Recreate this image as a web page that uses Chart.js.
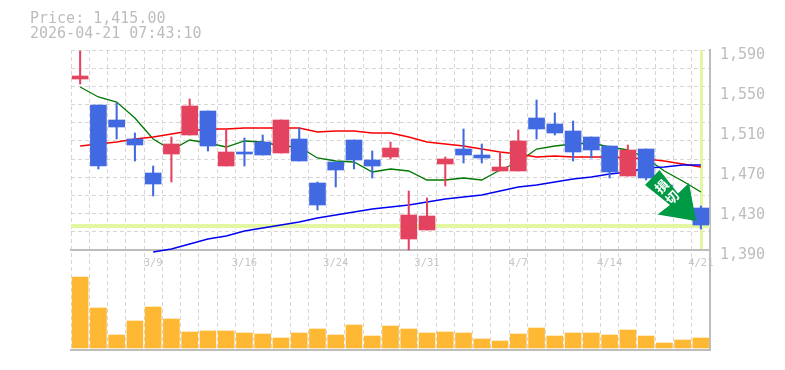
<!DOCTYPE html>
<html>
<head>
<meta charset="utf-8">
<style>
  html, body { margin: 0; padding: 0; background: #fff; }
  #wrap { width: 785px; height: 370px; }
</style>
<script src="https://cdn.jsdelivr.net/npm/chart.js@4/dist/chart.umd.js"></script>
</head>
<body>
<div id="wrap"><canvas id="c" width="785" height="370"></canvas></div>
<script>
const categories = ['3/3','3/4','3/5','3/6','3/9','3/10','3/11','3/12','3/13','3/16','3/17','3/18','3/19','3/23','3/24','3/25','3/26','3/27','3/30','3/31','4/1','4/2','4/3','4/6','4/7','4/8','4/9','4/10','4/13','4/14','4/15','4/16','4/17','4/20','4/21']
const shownDates = ['3/9','3/16','3/24','3/31','4/7','4/14','4/21']
const priceTicks = [1390,1430,1470,1510,1550,1590]

const opens  = [1561,1535,1520,1501,1467,1486,1505,1529,1474,1488,1498,1487,1501,1457,1478,1500,1480,1483,1401,1410,1476,1491,1485,1469,1469,1522,1516,1509,1503,1494,1464,1491,1455,1446,1432]
const closes = [1564,1474,1513,1495,1456,1496,1534,1494,1488,1486,1485,1520,1479,1435,1470,1480,1474,1492,1425,1424,1481,1485,1482,1473,1499,1511,1507,1488,1490,1468,1490,1462,1447,1425,1415]
const highs  = [1589,1535,1537,1507,1474,1503,1541,1529,1511,1502,1505,1520,1512,1458,1478,1500,1489,1498,1449,1442,1483,1511,1496,1488,1510,1540,1527,1519,1503,1494,1495,1491,1455,1446,1434]
const lows   = [1556,1471,1501,1479,1444,1458,1505,1489,1474,1474,1485,1487,1479,1430,1453,1471,1462,1481,1390,1410,1454,1477,1477,1469,1469,1501,1505,1479,1482,1462,1464,1460,1447,1425,1411]

const maShort = [1553,1543,1538,1522,1501,1490,1500,1497,1493,1499,1498,1494,1493,1482,1479,1478,1468,1471,1469,1460,1460,1462,1460,1470,1478,1491,1494,1496,1497,1493,1490,1482,1469,1459,1448]
const maMid   = [1494,1496,1498,1501,1503,1506,1509,1511,1511,1512,1512,1512,1512,1508,1509,1509,1507,1507,1503,1498,1496,1494,1491,1488,1486,1483,1484,1483,1483,1483,1482,1481,1479,1476,1473]
const maLong  = [null,null,null,null,1388,1391,1396,1401,1404,1409,1412,1415,1418,1422,1425,1428,1431,1433,1435,1438,1441,1443,1445,1449,1453,1455,1458,1461,1463,1466,1468,1472,1473,1475,1475]

const volumes = [71000,40000,13000,27000,41000,29000,16000,17000,17000,15000,14000,10000,15000,19000,13000,23000,12000,22000,19000,15000,16000,15000,9000,7000,14000,20000,12000,15000,15000,13000,18000,12000,5000,8000,10000]

const lastPrice = 1415
const RED = '#e44360', BLUE = '#4169e1', GREY = '#bdbdbd', GRID = '#d6d6d6', PALE = '#e3f6a2'
const candleColors = opens.map((o, i) => closes[i] >= o ? RED : BLUE)

// pale lines for the latest price, under the candles
const priceCross = {
  id: 'priceCross',
  beforeDatasetsDraw (chart) {
    const { ctx, chartArea: a, scales } = chart
    const y = Math.round(scales.y.getPixelForValue(lastPrice))
    const x = Math.round(scales.x.getPixelForValue(categories.length - 1))
    ctx.save()
    ctx.fillStyle = PALE
    ctx.fillRect(a.left, y - 1, a.right - a.left, 4)
    ctx.fillRect(x - 1, a.top, 3, scales.y.getPixelForValue(1390) - a.top - 1)
    ctx.restore()
  }
}

// the green stop-loss arrow on top of everything
const lossArrow = {
  id: 'lossArrow',
  afterDatasetsDraw (chart) {
    const { ctx } = chart
    const pts = [[659.5,170],[645,185],[670,205],[657.5,214.5],[696,221],[689,183],[678,193.5]]
    ctx.save()
    ctx.fillStyle = '#009944'
    ctx.beginPath()
    pts.forEach((p, i) => i ? ctx.lineTo(p[0], p[1]) : ctx.moveTo(p[0], p[1]))
    ctx.closePath()
    ctx.fill()
    ctx.fillStyle = '#fff'
    ctx.font = 'bold 13px "Noto Sans CJK JP"'
    ctx.textAlign = 'center'
    ctx.textBaseline = 'middle'
    ;[['損',661.5,186.5],['切',672,197.5]].forEach(t => {
      ctx.save()
      ctx.translate(t[1], t[2])
      ctx.rotate(-Math.PI / 4)
      ctx.fillText(t[0], 0, 0)
      ctx.restore()
    })
    ctx.restore()
  }
}

const lineSet = (data, color) => ({
  type: 'line', data, yAxisID: 'y', order: 3,
  borderColor: color, borderWidth: 1.3, pointRadius: 0, tension: 0, fill: false, spanGaps: false
})

new Chart(document.getElementById('c'), {
  data: {
    labels: categories,
    datasets: [
      lineSet(maLong, '#0000f0'),
      lineSet(maMid, '#f80000'),
      lineSet(maShort, '#007800'),
      {
        type: 'bar', label: 'wick', yAxisID: 'y', order: 2, grouped: false,
        data: highs.map((h, i) => [lows[i], h]),
        backgroundColor: candleColors, barThickness: 1.4
      },
      {
        type: 'bar', label: 'body', yAxisID: 'y', order: 1, grouped: false,
        data: opens.map((o, i) => [o, closes[i]]),
        backgroundColor: candleColors, barThickness: 16
      },
      {
        type: 'bar', label: 'volume', yAxisID: 'v', order: 1, grouped: false,
        data: volumes,
        backgroundColor: '#ffb833', barThickness: 16
      }
    ]
  },
  plugins: [priceCross, lossArrow],
  options: {
    responsive: false,
    animation: false,
    layout: { padding: { left: 30, right: 0, top: 0, bottom: 20 } },
    scales: {
      x: {
        type: 'category',
        position: { y: 1390 },
        offset: true,
        grid: { offset: true, color: GRID, drawTicks: false },
        border: { display: true, color: GREY, width: 2, dash: [4, 3] },
        ticks: {
          autoSkip: false, maxRotation: 0, padding: 7, color: '#c6c6c6',
          font: { family: '"DejaVu Sans Mono"', size: 10.5 },
          callback (value) {
            const d = this.getLabelForValue(value)
            return shownDates.includes(d) ? d : ''
          }
        }
      },
      xBase: {
        type: 'category', position: 'bottom', labels: categories,
        grid: { display: false },
        border: { display: true, color: GREY, width: 2 },
        ticks: { display: false },
        afterFit (s) { s.height = 0 }
      },
      y: {
        position: 'left', min: 1290, max: 1590,
        grid: { color: GRID, drawTicks: false },
        border: { display: false, dash: [4, 3] },
        ticks: { display: false },
        afterFit (s) { s.width = 41 },
        afterBuildTicks (s) {
          // grid row every 200/11 price units, price panel only
          const t = []
          for (let i = 0; i <= 11; i++) t.push({ value: 1390 + i * 200 / 11 })
          s.ticks = t
        }
      },
      labels: {
        position: 'right', min: 1295, max: 1595,
        grid: { display: false },
        border: { display: true, color: GREY, width: 2 },
        afterBuildTicks (s) { s.ticks = priceTicks.map(value => ({ value })) },
        afterFit (s) { s.width = 75 },
        ticks: {
          padding: 2, color: GREY, crossAlign: 'near',
          font: { family: '"DejaVu Sans Mono"', size: 15 },
          callback: value => value.toLocaleString('en-US')
        }
      },
      v: { display: false, min: -2000, max: 298000 }
    },
    plugins: {
      legend: { display: false },
      tooltip: { enabled: false },
      title: {
        display: true,
        text: ['Price: 1,415.00', '2026-04-21 07:43:10'],
        align: 'start',
        color: GREY,
        font: { family: '"DejaVu Sans Mono"', size: 15, weight: 'normal', lineHeight: 1 },
        padding: { top: 12, bottom: 8 }
      }
    }
  }
})
</script>
</body>
</html>
